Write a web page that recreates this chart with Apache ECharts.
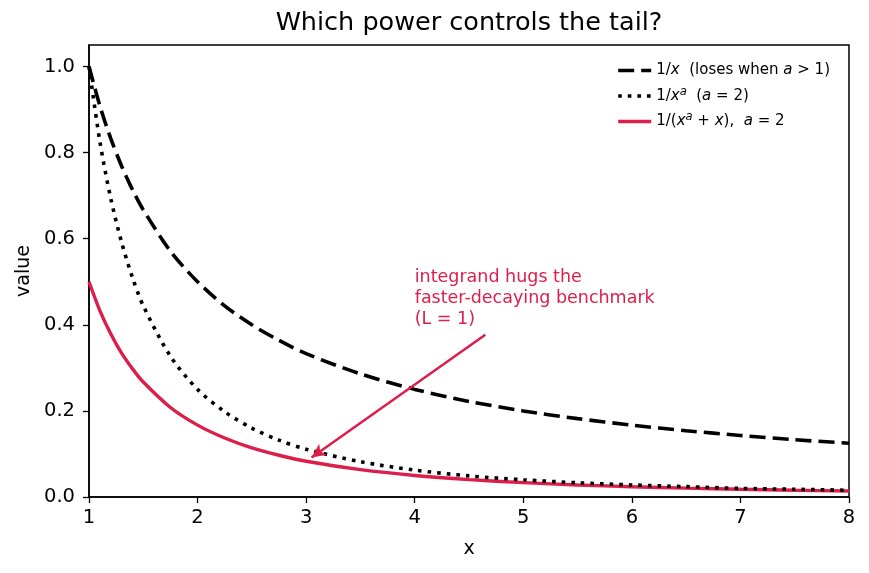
<!DOCTYPE html>
<html>
<head>
<meta charset="utf-8">
<script src="https://cdn.jsdelivr.net/npm/echarts@6/dist/echarts.min.js"></script>
<style>html,body{margin:0;padding:0;background:#fff}#c{width:869px;height:573px}</style>
</head>
<body>
<div id="c"></div>
<script>
const xs = [1, 1.1, 1.2, 1.3, 1.4, 1.5, 1.75, 2, 2.25, 2.5, 2.75, 3, 3.5, 4, 4.5, 5, 5.5, 6, 6.5, 7, 7.5, 8];
const invX = [1, 0.909, 0.833, 0.769, 0.714, 0.667, 0.571, 0.5, 0.444, 0.4, 0.364, 0.333, 0.286, 0.25, 0.222, 0.2, 0.182, 0.167, 0.154, 0.143, 0.133, 0.125];
const invXa = [1, 0.826, 0.694, 0.592, 0.510, 0.444, 0.327, 0.25, 0.198, 0.16, 0.132, 0.111, 0.082, 0.0625, 0.049, 0.04, 0.033, 0.028, 0.024, 0.020, 0.018, 0.0156];
const integrand = [0.5, 0.433, 0.379, 0.334, 0.298, 0.267, 0.208, 0.167, 0.137, 0.114, 0.097, 0.083, 0.0635, 0.05, 0.0404, 0.0333, 0.028, 0.0238, 0.0205, 0.0179, 0.0157, 0.0139];
const xTicks = [1, 2, 3, 4, 5, 6, 7, 8];
const yTicks = [0, 0.2, 0.4, 0.6, 0.8, 1.0];
const seriesNames = ['s1', 's2', 's3'];
const arrowFrom = [4.65, 0.377];
const arrowTo = [3.05, 0.092];
const noteAt = [4.0, 0.4];
const noteText = 'integrand hugs the\nfaster-decaying benchmark\n(L = 1)';
const titleText = 'Which power controls the tail?';

const CRIMSON = '#dc1e4a';
const zip = (a, b) => a.map((v, i) => [v, b[i]]);

const chart = echarts.init(document.getElementById('c'), null, {renderer: 'canvas'});
const FONT = 'DejaVu Sans';
const LF = 15;
const legendRich = {
  n: {fontFamily: FONT, fontSize: LF, color: '#000'},
  i: {fontFamily: FONT, fontSize: LF, fontStyle: 'italic', color: '#000'},
  s: {fontFamily: FONT, fontSize: 11.5, fontStyle: 'italic', color: '#000', verticalAlign: 'bottom', padding: [0, 0, 8, 0]}
};
const legendLabels = {
  s1: '{n|1/}{i|x}{n|  (loses when }{i|a}{n| > 1)}',
  s2: '{n|1/}{i|x}{s|a}{n|  (}{i|a}{n| = 2)}',
  s3: '{n|1/(}{i|x}{s|a}{n| + }{i|x}{n|),  }{i|a}{n| = 2}'
};

chart.setOption({
  animation: false,
  backgroundColor: '#fff',
  grid: {left: 89, right: 20, top: 45, bottom: 76, show: true, borderColor: '#000', borderWidth: 1.5, backgroundColor: 'transparent'},
  legend: {
    right: 34, top: 58, orient: 'vertical', itemWidth: 33, itemHeight: 12, itemGap: 8,
    data: seriesNames,
    itemStyle: {opacity: 0},
    lineStyle: {width: 3.6},
    formatter: n => legendLabels[n],
    textStyle: {rich: legendRich, fontFamily: FONT, fontSize: LF}
  },
  xAxis: {
    type: 'value', min: xTicks[0], max: xTicks[xTicks.length - 1], interval: 1,
    name: 'x', nameLocation: 'middle', nameGap: 43,
    nameTextStyle: {fontFamily: FONT, fontSize: 19, color: '#000'},
    axisLine: {show: true, lineStyle: {color: '#000', width: 1.5}},
    axisTick: {show: true, length: 6, lineStyle: {color: '#000', width: 1.3}},
    axisLabel: {fontFamily: FONT, fontSize: 19.5, color: '#000', margin: 11},
    splitLine: {show: false}
  },
  yAxis: {
    type: 'value', min: 0, max: 1.05, interval: 0.2,
    name: 'value', nameLocation: 'middle', nameGap: 54,
    nameTextStyle: {fontFamily: FONT, fontSize: 19, color: '#000'},
    axisLine: {show: true, lineStyle: {color: '#000', width: 1.5}},
    axisTick: {show: true, length: 6, lineStyle: {color: '#000', width: 1.3}},
    axisLabel: {fontFamily: FONT, fontSize: 19.5, color: '#000', margin: 14, showMaxLabel: false,
      formatter: v => yTicks.some(t => Math.abs(t - v) < 1e-9) ? v.toFixed(1) : ''},
    splitLine: {show: false}
  },
  series: [
    {name: 's1', type: 'line', smooth: 0.3, symbol: 'none', data: zip(xs, invX), z: 3,
     lineStyle: {color: '#000', width: 3.6, type: [16, 7], cap: 'butt'}, itemStyle: {color: '#000'}},
    {name: 's2', type: 'line', smooth: 0.3, symbol: 'none', data: zip(xs, invXa), z: 3,
     lineStyle: {color: '#000', width: 3.6, type: [3.6, 6], cap: 'butt'}, itemStyle: {color: '#000'}},
    {name: 's3', type: 'line', smooth: 0.3, symbol: 'none', data: zip(xs, integrand), z: 2,
     lineStyle: {color: CRIMSON, width: 3.4}, itemStyle: {color: CRIMSON},
     markLine: {
       silent: true, symbol: ['none', 'arrow'], symbolSize: [10, 14],
       label: {show: false},
       lineStyle: {color: CRIMSON, width: 2.5, type: 'solid'},
       data: [[{coord: arrowFrom}, {coord: arrowTo}]]
     }}
  ]
});

const p = chart.convertToPixel({gridIndex: 0}, noteAt);
chart.setOption({
  graphic: [
    {
      type: 'text', left: p[0], top: p[1] - 57.5,
      style: {text: noteText, fontFamily: FONT, fontSize: 17.5, lineHeight: 21, fill: CRIMSON}
    },
    {
      type: 'text', x: 469, y: 23.5,
      style: {text: titleText, fontFamily: FONT, fontSize: 25.5, fill: '#000', align: 'center', verticalAlign: 'middle'}
    }
  ]
});
</script>
</body>
</html>
